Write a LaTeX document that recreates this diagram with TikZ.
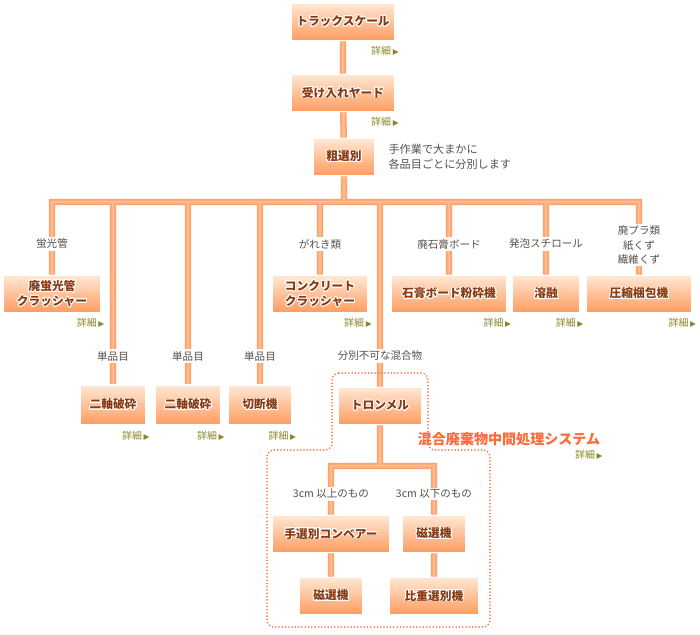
\documentclass[tikz,border=0pt]{standalone}
\usepackage{fontspec}
\setmainfont{Noto Sans CJK JP}
\newfontfamily\symfont{DejaVu Sans}
\usepackage{contour}
\contourlength{0.8pt}
\usetikzlibrary{positioning,shadows,backgrounds}

\definecolor{pipeC}{RGB}{255,162,105}
\definecolor{pipeL}{RGB}{255,188,145}
\definecolor{boxTop}{RGB}{255,232,212}
\definecolor{boxBot}{RGB}{255,155,95}
\definecolor{boxText}{RGB}{135,58,18}
\definecolor{lblText}{RGB}{85,80,75}
\definecolor{detC}{RGB}{135,135,40}
\definecolor{sysC}{RGB}{255,105,55}

\newcommand{\boxtxt}[1]{\contour{white}{#1}}
\newcommand{\detailtxt}{詳細\,{\symfont\fontsize{6.5}{7}\selectfont ▶}}

\begin{document}
\begin{tikzpicture}[x=0.03cm, y=-0.03cm,
    box/.style={draw=white, line width=1.2pt, top color=boxTop, bottom color=boxBot,
      minimum height=1.12cm, inner sep=2pt, align=center, text=boxText,
      font=\bfseries\fontsize{10}{13}\selectfont,
      drop shadow={shadow xshift=0.7pt, shadow yshift=-0.7pt, opacity=0.3, fill=black}},
    lbl/.style={fill=white, text=lblText, inner sep=1.5pt, align=center,
      font=\fontsize{9}{12}\selectfont},
    note/.style={text=lblText, align=left, inner sep=0pt, font=\fontsize{9.5}{13}\selectfont},
    detail/.style={text=detC, inner sep=0pt, anchor=north east, font=\fontsize{8.5}{9}\selectfont},
    pipe/.style={draw=pipeC, line width=5.5pt, postaction={draw=pipeL, line width=2.5pt}},
    sysline/.style={draw=sysC, line width=1.5pt, line cap=round,
      dash pattern=on 0pt off 2.8pt, rounded corners=6pt},
    systitle/.style={text=sysC, inner sep=0pt, font=\bfseries\fontsize{12}{14}\selectfont}]

    \useasboundingbox (0,0) rectangle (700,634);

    %受け入れ
    \node[box, minimum width=3.1cm] (scale) at (343,22) {\boxtxt{トラックスケール}};
    \node[box, minimum width=3.1cm] (yard) at (343,93) {\boxtxt{受け入れヤード}};
    \node[box, minimum width=1.86cm] (sobetsu) at (344,157) {\boxtxt{粗選別}};
    \node[note, right=0.38cm of sobetsu] (sobetsu-note) {手作業で大まかに\\各品目ごとに分別します};
    \coordinate (bus) at (344,202);

    % 品目ごとの処理
    \node[box, minimum width=2.9cm] (lamp) at (52,294) {\boxtxt{廃蛍光管}\\\boxtxt{クラッシャー}};
    \node[box, minimum width=2.86cm] (concrete) at (320,294) {\boxtxt{コンクリート}\\\boxtxt{クラッシャー}};
    \node[box, minimum width=3.48cm] (gypsum) at (449,294) {\boxtxt{石膏ボード粉砕機}};
    \node[box, minimum width=2.0cm] (melt) at (546,294) {\boxtxt{溶融}};
    \node[box, minimum width=3.18cm] (press) at (639,294) {\boxtxt{圧縮梱包機}};

    % 単品目
    \node[box, minimum width=1.95cm, minimum height=1.2cm] (biax1) at (113,405) {\boxtxt{二軸破砕}};
    \node[box, minimum width=1.95cm, minimum height=1.2cm] (biax2) at (188,405) {\boxtxt{二軸破砕}};
    \node[box, minimum width=1.92cm, minimum height=1.2cm] (cutter) at (260,405) {\boxtxt{切断機}};

    % 混合廃棄物中間処理システム
    \node[box, minimum width=2.5cm] (trommel) at (380,406) {\boxtxt{トロンメル}};
    \coordinate (fork) at (380,466);
    \node[box, minimum width=3.5cm] (conveyor) at (331,534) {\boxtxt{手選別コンベアー}};
    \node[box, minimum width=1.92cm] (mag1) at (434,534) {\boxtxt{磁選機}};
    \node[box, minimum width=1.92cm] (mag2) at (331,596) {\boxtxt{磁選機}};
    \node[box, minimum width=2.7cm] (gravity) at (434,596) {\boxtxt{比重選別機}};

    \draw[sysline] (332,373) -- (428,373) -- (428,450) -- (490,450) -- (490,627)
      -- (267,627) -- (267,450) -- (332,450) -- cycle;
    \node[systitle] (system) at (509,439) {混合廃棄物中間処理システム};

    % 配管
    \begin{pgfonlayer}{background}
      \draw[pipe] (scale) -- (yard) -- (sobetsu) -- (bus)
        (lamp) |- (bus) -| (press)
        (biax1 |- bus) -- (biax1)
        (biax2 |- bus) -- (biax2)
        (cutter |- bus) -- (cutter)
        (concrete |- bus) -- (concrete)
        (trommel |- bus) -- (trommel)
        (gypsum |- bus) -- (gypsum)
        (melt |- bus) -- (melt)
        (trommel) -- (fork)
        (conveyor) |- (fork) -| (mag1)
        (conveyor) -- (mag2)
        (mag1) -- (gravity);
    \end{pgfonlayer}

    % 品目ラベル
    \node[lbl] (lbl-lamp) at (52,244) {蛍光管};
    \node[lbl] (lbl-concrete) at (320,244) {がれき類};
    \node[lbl] (lbl-gypsum) at (449,244) {廃石膏ボード};
    \node[lbl] (lbl-melt) at (546,244) {発泡スチロール};
    \node[lbl] (lbl-press) at (639,245) {廃プラ類\\紙くず\\繊維くず};
    \node[lbl] (lbl-biax1) at (113,356) {単品目};
    \node[lbl] (lbl-biax2) at (188,356) {単品目};
    \node[lbl] (lbl-cutter) at (260,356) {単品目};
    \node[lbl] (lbl-trommel) at (380,356) {分別不可な混合物};
    \node[lbl] (lbl-over) at (331,494) {3cm 以上のもの};
    \node[lbl] (lbl-under) at (434,494) {3cm 以下のもの};

    % 詳細リンク
    \node[detail] (d-scale) at ([xshift=3pt,yshift=-4pt]scale.south east) {\detailtxt};
    \node[detail] (d-yard) at ([xshift=3pt,yshift=-4pt]yard.south east) {\detailtxt};
    \node[detail] (d-lamp) at ([xshift=3pt,yshift=-4pt]lamp.south east) {\detailtxt};
    \node[detail] (d-concrete) at ([xshift=3pt,yshift=-4pt]concrete.south east) {\detailtxt};
    \node[detail] (d-gypsum) at ([xshift=3pt,yshift=-4pt]gypsum.south east) {\detailtxt};
    \node[detail] (d-melt) at ([xshift=3pt,yshift=-4pt]melt.south east) {\detailtxt};
    \node[detail] (d-press) at ([xshift=3pt,yshift=-4pt]press.south east) {\detailtxt};
    \node[detail] (d-biax1) at ([xshift=3pt,yshift=-4pt]biax1.south east) {\detailtxt};
    \node[detail] (d-biax2) at ([xshift=3pt,yshift=-4pt]biax2.south east) {\detailtxt};
    \node[detail] (d-cutter) at ([xshift=3pt,yshift=-4pt]cutter.south east) {\detailtxt};
    \node[detail] (d-system) at ([xshift=2pt,yshift=-3pt]system.south east) {\detailtxt};

\end{tikzpicture}
\end{document}
